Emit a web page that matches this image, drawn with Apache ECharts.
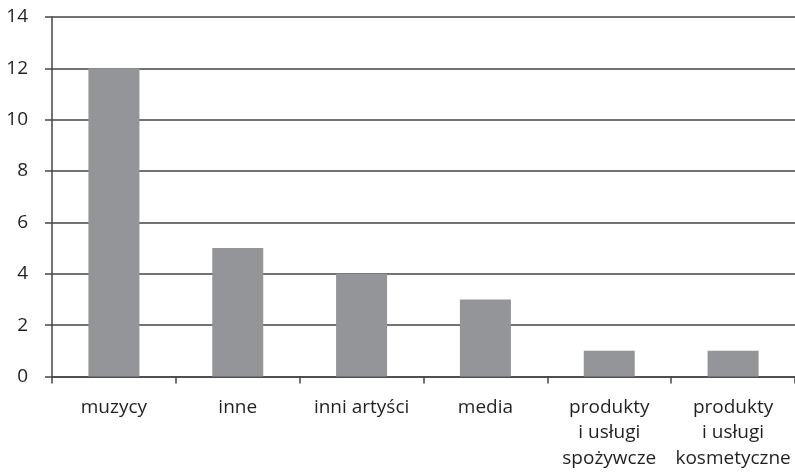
<!DOCTYPE html>
<html>
<head>
<meta charset="utf-8">
<script src="https://cdn.jsdelivr.net/npm/echarts@6/dist/echarts.min.js"></script>
<style>
  html, body { margin: 0; padding: 0; background: #fff; }
  #chart { width: 795px; height: 472px; }
</style>
</head>
<body>
<div id="chart"></div>
<script>
// Categories and counts
const categories = [
  'muzycy',
  'inne',
  'inni artyści',
  'media',
  'produkty\ni usługi\nspożywcze',
  'produkty\ni usługi\nkosmetyczne'
];
const counts = [12, 5, 4, 3, 1, 1];
const yTicks = { min: 0, max: 14, interval: 2 };

const textColor = '#231f20';
const lineColor = '#454545';
const fontFamily = '"Open Sans", "Noto Sans", sans-serif';

const chart = echarts.init(document.getElementById('chart'), null, { renderer: 'canvas' });

chart.setOption({
  animation: false,
  backgroundColor: '#ffffff',
  grid: { left: 52, top: 17, width: 746, bottom: 95.5, containLabel: false },
  xAxis: {
    type: 'category',
    data: categories,
    boundaryGap: true,
    axisLine: { show: true, lineStyle: { color: lineColor, width: 1.5 } },
    axisTick: { show: true, length: 7, inside: false, lineStyle: { color: lineColor, width: 1.5 } },
    axisLabel: {
      interval: 0,
      margin: 18,
      color: textColor,
      fontFamily: fontFamily,
      fontSize: 19,
      lineHeight: 25.5
    },
    splitLine: { show: false }
  },
  yAxis: {
    type: 'value',
    min: yTicks.min,
    max: yTicks.max,
    interval: yTicks.interval,
    axisLine: { show: true, lineStyle: { color: lineColor, width: 1.5 } },
    axisTick: { show: true, length: 7, inside: false, lineStyle: { color: lineColor, width: 1.5 } },
    axisLabel: {
      margin: 24,
      color: textColor,
      fontFamily: fontFamily,
      fontSize: 19
    },
    splitLine: { show: true, lineStyle: { color: lineColor, width: 1.5 } }
  },
  series: [{
    type: 'bar',
    data: counts,
    barWidth: 51,
    itemStyle: { color: '#939598' },
    z: 1
  }]
});
</script>
</body>
</html>
